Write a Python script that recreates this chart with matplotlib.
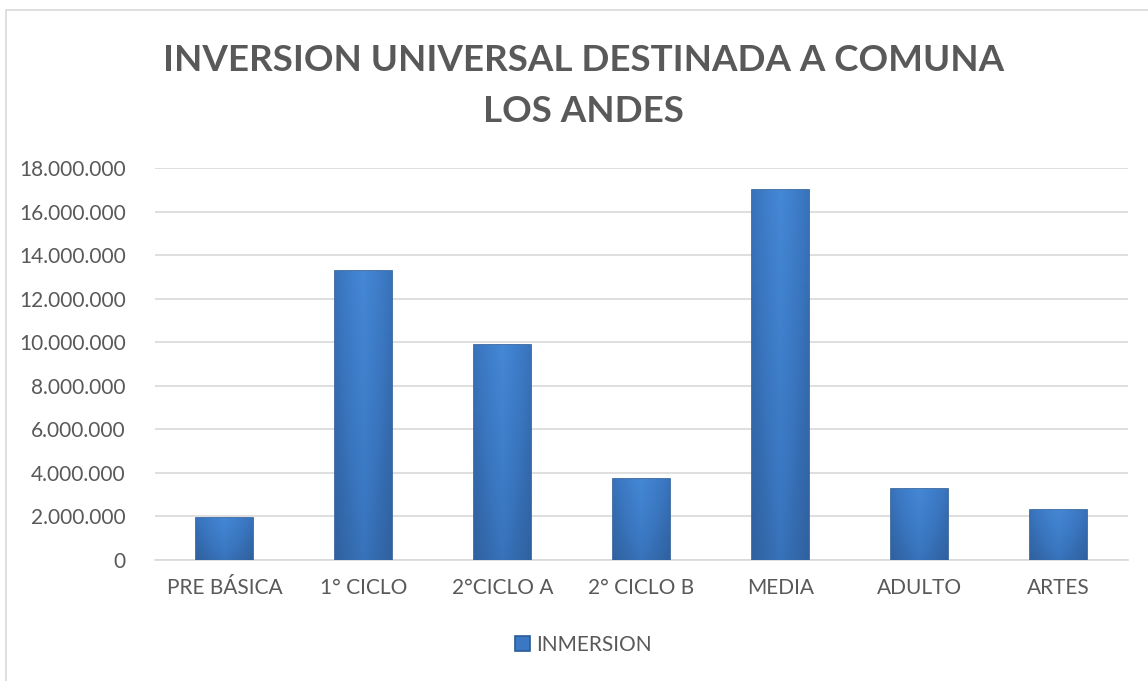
import numpy as np
import matplotlib.pyplot as plt
from matplotlib.patches import Rectangle
from matplotlib.colors import LinearSegmentedColormap
from matplotlib.ticker import FuncFormatter

categorias = ['PRE BÁSICA', '1° CICLO', '2°CICLO A', '2° CICLO B', 'MEDIA', 'ADULTO', 'ARTES']
inversion = [1950000, 13250000, 9850000, 3700000, 17000000, 3250000, 2300000]
serie = 'INMERSION'
titulo = 'INVERSION UNIVERSAL DESTINADA A COMUNA\nLOS ANDES'

gris = '#595959'
plt.rcParams['font.family'] = ['Lato', 'DejaVu Sans']

fig = plt.figure(figsize=(11.48, 6.81), dpi=100)
ax = fig.add_axes([0.135, 0.1777, 0.8475, 0.5756])

# marco del grafico
fig.patches.append(Rectangle((6 / 1148, -0.1), 1.2, 1.1 - 10 / 681, transform=fig.transFigure,
                             fill=False, edgecolor='#d9d9d9', linewidth=1.2))

x = np.arange(len(categorias))
barras = ax.bar(x, inversion, width=0.41, color='#3b78c4', edgecolor='#2a5b98', linewidth=1.2,
                label=serie, zorder=3)

# degradado de las barras (mas claro arriba, oscuro en los bordes)
cmap = LinearSegmentedColormap.from_list('azul', ['#2c5a94', '#3a76c0', '#4588d6'])
h = np.linspace(0, 1, 60)
horiz = 1 - np.abs(h - 0.5) * 0.9
for b in barras:
    vert = np.linspace(0.55, 1.0, 100)[:, None]
    img = vert * horiz[None, :]
    im = ax.imshow(img, cmap=cmap, vmin=0.2, vmax=1, aspect='auto', origin='lower',
                   extent=[b.get_x(), b.get_x() + b.get_width(), 0, b.get_height()], zorder=3.5)
    im.set_clip_path(b)

ax.set_ylim(0, 18000000)
ax.set_xlim(-0.5, len(categorias) - 0.5)
ax.set_yticks(range(0, 18000001, 2000000))
ax.yaxis.set_major_formatter(FuncFormatter(lambda v, p: f'{int(v):,}'.replace(',', '.')))
ax.set_xticks(x)
ax.set_xticklabels(categorias)
ax.grid(axis='y', color='#d9d9d9', linewidth=1.2, zorder=0)
for s in ['top', 'right', 'left']:
    ax.spines[s].set_visible(False)
ax.spines['bottom'].set_color('#d9d9d9')
ax.spines['bottom'].set_linewidth(1.2)
ax.tick_params(axis='both', length=0, labelsize=15, colors=gris)
ax.tick_params(axis='y', pad=21)
ax.tick_params(axis='x', pad=13)

fig.text(0.508, 0.874, titulo, ha='center', va='center', fontsize=26.5, fontweight='bold',
         color=gris, linespacing=1.65)

fig.legend(loc='center', bbox_to_anchor=(0.508, 0.053), frameon=False, fontsize=15,
           labelcolor=gris, handlelength=0.7, handleheight=0.7, handletextpad=0.3)

fig.savefig('out.png', dpi=100)
